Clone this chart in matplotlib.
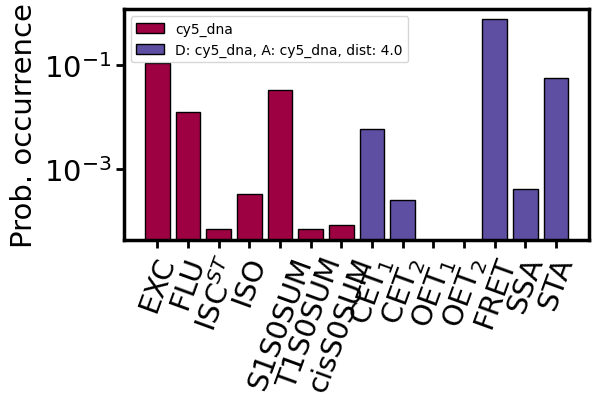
import matplotlib
matplotlib.use("Agg")
import matplotlib.pyplot as plt
import matplotlib.ticker as mticker
import numpy as np

# ---- data ----
labels = ["EXC", "FLU", "ISC$^{ST}$", "ISO", "S1S0SUM", "T1S0SUM", "cisS0SUM",
          "CET$_1$", "CET$_2$", "OET$_1$", "OET$_2$", "FRET", "SSA", "STA"]
mono_vals = [0.11, 0.0125, 7.0e-5, 3.3e-4, 0.033, 7.0e-5, 8.3e-5]
pair_vals = [0.0059, 2.5e-4, 0.0, 0.0, 0.77, 4.1e-4, 0.056]
mono_label = "cy5_dna"
pair_label = "D: cy5_dna, A: cy5_dna, dist: 4.0"

plt.rcParams.update({
    "font.size": 21,
    "axes.linewidth": 2.5,
    "xtick.major.width": 2.0,
    "ytick.major.width": 2.0,
    "xtick.major.size": 5.5,
    "ytick.major.size": 5.5,
})

fig, ax = plt.subplots(figsize=(5.99, 4.06), dpi=100)
fig.subplots_adjust(left=0.207, right=0.984, top=0.975, bottom=0.406)

x_mono = np.arange(len(mono_vals))
x_pair = np.arange(len(mono_vals), len(mono_vals) + len(pair_vals))

ax.bar(x_mono, mono_vals, color="#9E0142", edgecolor="black", linewidth=1,
       label=mono_label)
ax.bar(x_pair, pair_vals, color="#5E4FA2", edgecolor="black", linewidth=1,
       label=pair_label)

ax.set_yscale("log")
ax.set_ylim(4.3e-5, 1.2)
ax.yaxis.set_major_locator(mticker.FixedLocator([1e-3, 1e-1]))
ax.yaxis.set_minor_locator(mticker.NullLocator())
ax.set_ylabel("Prob. occurrence", fontsize=21)

ax.set_xticks(np.arange(len(labels)))
ax.set_xticklabels(labels, rotation=70, ha="center")
ax.tick_params(axis="both", labelsize=21)

ax.legend(loc="upper left", fontsize=10)

fig.savefig("out.png", dpi=100)
